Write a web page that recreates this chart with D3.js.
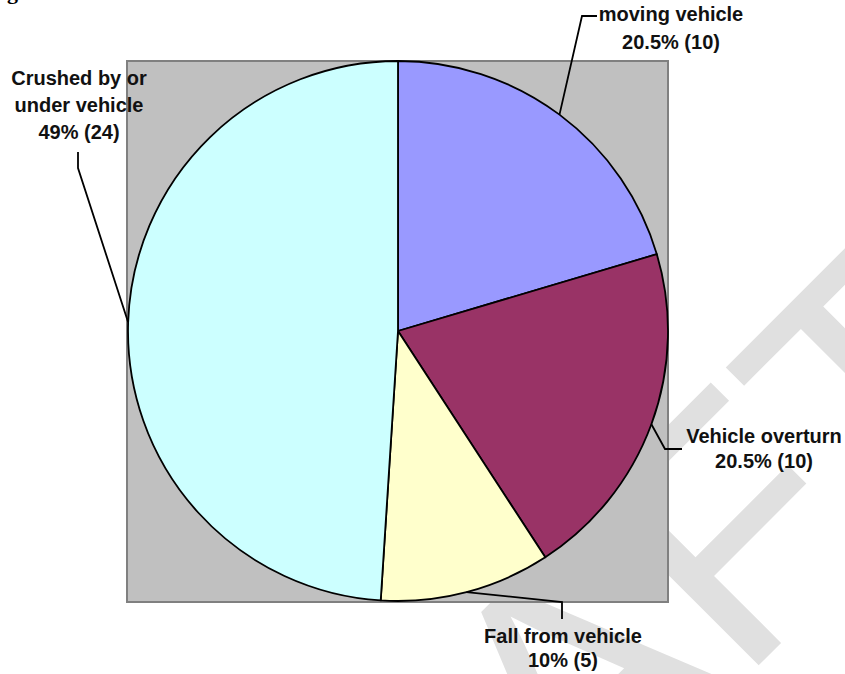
<!DOCTYPE html>
<html>
<head>
<meta charset="utf-8">
<script src="https://cdn.jsdelivr.net/npm/d3@7/dist/d3.min.js"></script>
<style>
  body { margin: 0; background: #fff; }
  text { font-family: "Liberation Sans", Arial, sans-serif; }
</style>
</head>
<body>
<div id="chart"></div>
<script>
// data (clockwise from 12 o'clock)
const categories = ["moving vehicle", "Vehicle overturn", "Fall from vehicle", "Crushed by or under vehicle"];
const counts = [10, 10, 5, 24];
const percents = ["20.5%", "20.5%", "10%", "49%"];
const labelLines = [["moving vehicle"], ["Vehicle overturn"], ["Fall from vehicle"], ["Crushed by or", "under vehicle"]];
const colors = ["#9999FF", "#993366", "#FFFFCC", "#CCFFFF"];

const width = 845, height = 674;
const cx = 398, cy = 331, radius = 270;

// label placement: text anchor, line step, leader elbow and end
const labelLayout = [
  {x: 671, y: 21, step: 28, elbow: [582, 16], end: [597, 16]},
  {x: 764, y: 443, step: 25, elbow: [665, 449], end: [682, 449]},
  {x: 563, y: 643, step: 24, elbow: [562, 602], end: [562, 619]},
  {x: 79, y: 85, step: 27, elbow: [78, 168], end: [78, 152]}
];

var svg = d3.select('#chart')
  .append('svg')
  .attr('width', width)
  .attr('height', height);

// faint watermark behind the chart
svg.append('text')
  .attr('transform', 'translate(632,792) rotate(-45)')
  .attr('text-anchor', 'middle')
  .style('font-size', '340px')
  .style('fill', '#e0e0e0')
  .text('DRAFT');

// clipped figure caption at top-left
svg.append('text')
  .attr('x', 7)
  .attr('y', -1)
  .style('font-family', '"Liberation Serif", serif')
  .style('font-weight', 'bold')
  .style('font-size', '22px')
  .text('g');

// plot area
svg.append('rect')
  .attr('x', 127)
  .attr('y', 61)
  .attr('width', 541)
  .attr('height', 541)
  .attr('fill', '#C0C0C0')
  .attr('stroke', '#808080')
  .attr('stroke-width', 2);

const pie = d3.pie().sort(null).value(d => d);
const arcs = pie(counts);

const arc = d3.arc().innerRadius(0).outerRadius(radius);
const edge = d3.arc().innerRadius(radius).outerRadius(radius);

const g = svg.append('g')
  .attr('transform', `translate(${cx},${cy})`);

g.selectAll('path')
  .data(arcs)
  .enter()
  .append('path')
  .attr('d', arc)
  .attr('fill', (d, i) => colors[i])
  .attr('stroke', '#000')
  .attr('stroke-width', 1.8)
  .attr('stroke-linejoin', 'round');

// leader lines from the slice edge to the label
svg.selectAll('.leader')
  .data(arcs)
  .enter()
  .append('polyline')
  .attr('class', 'leader')
  .attr('points', (d, i) => {
    const p = edge.centroid(d);
    const l = labelLayout[i];
    return [[cx + p[0], cy + p[1]], l.elbow, l.end].map(q => q.join(',')).join(' ');
  })
  .attr('fill', 'none')
  .attr('stroke', '#000')
  .attr('stroke-width', 1.8);

// labels
arcs.forEach((d, i) => {
  const l = labelLayout[i];
  const lines = labelLines[i].concat([`${percents[i]} (${counts[i]})`]);
  const t = svg.append('text')
    .attr('text-anchor', 'middle')
    .style('font-size', '20px')
    .style('font-weight', 'bold')
    .style('fill', '#111');
  lines.forEach((s, k) => {
    t.append('tspan')
      .attr('x', l.x)
      .attr('y', l.y + k * l.step)
      .text(s);
  });
});
</script>
</body>
</html>
